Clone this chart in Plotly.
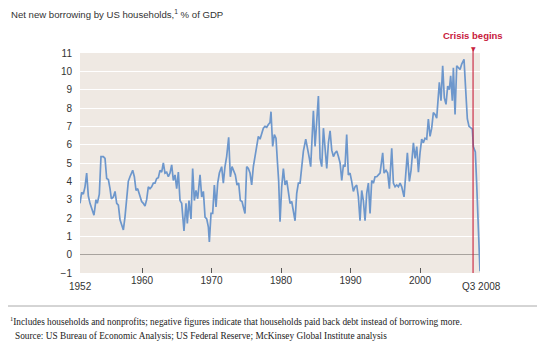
import plotly.graph_objects as go

# ---- data ----
years = [
    1951.08, 1951.32, 1951.56, 1951.80, 1952.04, 1952.28, 1952.52, 1952.76, 1953.09, 1953.38,
    1953.57, 1953.86, 1954.10, 1954.44, 1954.68, 1954.92, 1955.16, 1955.40, 1955.59, 1955.88,
    1956.12, 1956.36, 1956.60, 1956.84, 1957.08, 1957.32, 1957.55, 1957.79, 1958.03, 1958.27,
    1958.66, 1958.90, 1959.14, 1959.38, 1959.71, 1959.95, 1960.19, 1960.43, 1960.67, 1960.91,
    1961.15, 1961.39, 1961.63, 1961.87, 1962.11, 1962.35, 1962.59, 1962.83, 1963.07, 1963.31,
    1963.55, 1963.79,
    1964.03, 1964.27, 1964.51, 1964.75, 1964.99, 1965.23, 1965.47, 1965.71, 1966.04, 1966.33,
    1966.52, 1966.76, 1967.05, 1967.29, 1967.53, 1967.77, 1968.01, 1968.35, 1968.59, 1968.83,
    1969.07, 1969.31, 1969.55, 1969.69, 1969.93, 1970.17, 1970.41, 1970.65, 1970.89, 1971.13,
    1971.46, 1971.70, 1971.94, 1972.18, 1972.47, 1972.71, 1972.95, 1973.19, 1973.43, 1973.67,
    1973.91, 1974.15, 1974.39, 1974.58, 1974.82, 1975.06, 1975.30, 1975.54, 1975.78, 1976.02,
    1976.26, 1976.50, 1976.74, 1976.98, 1977.22, 1977.46, 1977.70, 1977.94, 1978.18, 1978.42,
    1978.56, 1978.80, 1979.04, 1979.28, 1979.47, 1979.66, 1979.86, 1980.10, 1980.34, 1980.58,
    1980.82, 1981.06, 1981.30, 1981.54, 1981.78, 1982.02, 1982.26, 1982.50,
    1982.74, 1982.98, 1983.22, 1983.56, 1983.80, 1984.08, 1984.27, 1984.47, 1984.66, 1984.90,
    1985.14, 1985.38, 1985.62, 1985.86, 1986.10, 1986.34, 1986.58, 1986.82, 1987.06, 1987.30,
    1987.54, 1987.78, 1988.02, 1988.26, 1988.50, 1988.74, 1988.98, 1989.21, 1989.45, 1989.69,
    1989.93, 1990.17, 1990.41, 1990.65, 1990.89, 1991.13, 1991.37, 1991.61, 1991.85, 1992.09,
    1992.33, 1992.57, 1992.81, 1993.05, 1993.29, 1993.53, 1993.77, 1994.01, 1994.25, 1994.63,
    1994.83, 1995.11, 1995.35, 1995.59, 1995.93, 1996.17, 1996.41, 1996.65, 1996.89, 1997.13,
    1997.37, 1997.70, 1997.99, 1998.18, 1998.47, 1998.71, 1999.05, 1999.29, 1999.53, 1999.77,
    2000.00, 2000.24, 2000.48, 2000.72, 2000.96, 2001.20, 2001.44, 2001.68, 2001.92, 2002.16,
    2002.40, 2002.64, 2002.78, 2003.02, 2003.26, 2003.50, 2003.74, 2003.98, 2004.22, 2004.41,
    2004.65, 2004.80, 2005.04, 2005.28, 2005.52, 2005.76, 2006.00, 2006.33, 2006.57, 2006.81,
    2007.05, 2007.29, 2007.53, 2007.67, 2007.82, 2007.96, 2008.15, 2008.35, 2008.49, 2008.63,
]
borrowing = [
    2.8, 3.4, 3.3, 3.7, 4.45, 3.2, 2.8, 2.5, 2.15, 3.0,
    2.8, 3.3, 5.35, 5.35, 5.25, 4.15, 4.1, 3.6, 3.05, 3.15,
    3.45, 2.8, 2.7, 1.9, 1.6, 1.35, 2.05, 3.15, 4.0, 4.25,
    4.6, 4.25, 3.5, 3.6, 3.15, 2.9, 2.8, 2.65, 3.0, 3.7,
    3.6, 3.7, 3.9, 3.9, 4.15, 4.2, 4.6, 4.5, 5.0, 4.45,
    4.5, 4.25,
    4.45, 4.9, 4.05, 4.35, 3.6, 4.5, 2.95, 2.8, 1.3, 2.8,
    1.7, 2.95, 1.95, 4.7, 2.95, 3.5, 3.05, 4.35, 3.15, 3.45,
    2.05, 1.95, 1.5, 0.7, 2.25, 2.25, 3.8, 2.6, 3.9, 4.45,
    4.8, 3.9, 4.8, 5.35, 6.4, 4.25, 4.8, 4.55, 4.35, 3.8,
    3.9, 2.95, 2.9, 2.6, 2.25, 4.8, 4.7, 4.45, 3.8, 4.8,
    5.35, 6.1, 6.45, 6.3, 6.55, 6.9, 7.0, 6.95, 7.1, 7.2,
    7.8, 5.9, 6.55, 6.35, 5.15, 4.05, 1.8, 3.7, 4.7, 3.8,
    4.05, 3.35, 2.8, 2.9, 2.4, 1.85, 3.35, 3.9,
    3.9, 4.8, 5.65, 6.3, 5.7, 5.25, 4.8, 6.3, 7.85, 5.9,
    7.2, 8.65, 5.25, 4.8, 6.9, 5.9, 4.7, 6.1, 6.75, 5.7,
    5.35, 5.55, 5.65, 5.35, 5.0, 4.05, 4.9, 4.8, 6.55, 4.35,
    4.45, 4.0, 3.45, 3.7, 3.8, 3.15, 1.85, 3.5, 2.95, 1.85,
    3.35, 3.9, 2.25, 4.05, 3.9, 4.25, 4.25, 4.35, 4.45, 5.55,
    4.45, 4.6, 4.45, 3.6, 5.8, 3.9, 3.7, 3.8, 3.7, 3.9,
    3.7, 3.15, 4.45, 5.55, 4.0, 4.6, 6.1, 5.25, 5.9, 4.5,
    5.55, 6.3, 6.1, 6.35, 6.3, 7.4, 6.45, 6.9, 7.75, 7.65,
    7.45, 8.55, 9.4, 8.4, 10.3, 8.55, 8.2, 9.2, 9.0, 9.75,
    8.4, 10.2, 7.65, 10.3, 10.2, 10.1, 10.4, 10.65, 9.0, 7.4,
    7.0, 6.9, 6.85, 5.9, 5.7, 5.6, 3.9, 2.05, 0.2, -0.9,
]
y_ticks = list(range(-1, 12))
x_ticks = [1960, 1970, 1980, 1990, 2000]
x_tick_labels = ["1960", "1970", "1980", "1990", "2000"]
start_label = "1952"
end_label = "Q3 2008"
crisis_x = 2007.63
crisis_label = "Crisis begins"
title = "Net new borrowing by US households,<sup>1</sup> % of GDP"
footnote = "<sup>1</sup>Includes households and nonprofits; negative figures indicate that households paid back debt instead of borrowing more."
source = "Source: US Bureau of Economic Analysis; US Federal Reserve; McKinsey Global Institute analysis"

# ---- layout geometry (pixels) ----
W, H = 545, 349
L, R, T, B = 80, 480, 53, 273
pw, ph = R - L, B - T


def px(xp):
    return (xp - L) / pw


def py(yp):
    return (B - yp) / ph


SANS = "Liberation Sans, Arial, sans-serif"
SERIF = "Liberation Serif, Times New Roman, serif"
RED = "#C8203C"
BLUE = "#6D97CC"
TXT = "#333333"

fig = go.Figure()
fig.add_trace(go.Scatter(
    x=years, y=borrowing, mode="lines",
    line=dict(color=BLUE, width=1.7),
    hoverinfo="skip", showlegend=False,
))

fig.update_layout(
    width=W, height=H,
    margin=dict(l=L, r=W - R, t=T, b=H - B, pad=0),
    paper_bgcolor="white",
    plot_bgcolor="#EFE9E3",
    font=dict(family=SANS, size=10, color=TXT),
    xaxis=dict(
        range=[years[0], years[-1]],
        tickmode="array", tickvals=x_ticks, ticktext=x_tick_labels,
        ticks="inside", ticklen=5, tickwidth=1, tickcolor="#555555",
        showgrid=False, zeroline=False, showline=False,
        tickfont=dict(family=SANS, size=10, color=TXT),
        fixedrange=True,
    ),
    yaxis=dict(
        range=[-1, 11],
        tickmode="array", tickvals=y_ticks,
        showgrid=True, gridcolor="#FFFFFF", gridwidth=1,
        zeroline=True, zerolinecolor="#A8A39E", zerolinewidth=1,
        showline=False, ticks="",
        ticklabelstandoff=7,
        tickfont=dict(family=SANS, size=10, color=TXT),
        fixedrange=True,
    ),
)

shapes = [
    dict(type="line", xref="x", yref="paper", x0=crisis_x, x1=crisis_x,
         y0=0, y1=py(50), line=dict(color=RED, width=1.1), layer="above"),
    dict(type="line", xref="paper", yref="paper", x0=px(8), x1=px(537),
         y0=py(306), y1=py(306), line=dict(color="#AAAAAA", width=1)),
]
fig.update_layout(shapes=shapes)

ann = [
    dict(text=title, x=px(9), y=py(14), xanchor="left", yanchor="middle",
         font=dict(family=SANS, size=9.6, color=TXT)),
    dict(text=start_label, x=0, y=py(286), xanchor="center", yanchor="middle",
         font=dict(family=SANS, size=10, color=TXT)),
    dict(text=end_label, x=px(482), y=py(286), xanchor="center", yanchor="middle",
         font=dict(family=SANS, size=10, color=TXT)),
    dict(text="<b>" + crisis_label + "</b>", xref="x", x=crisis_x, y=py(36),
         xanchor="center", yanchor="middle",
         font=dict(family=SANS, size=9.5, color=RED)),
    dict(text="▼", xref="x", x=crisis_x, y=py(48), xanchor="center", yanchor="middle",
         font=dict(family="DejaVu Sans", size=6, color=RED)),
    dict(text=footnote, x=px(8), y=py(321), xanchor="left", yanchor="middle",
         font=dict(family=SERIF, size=9.3, color="#222222")),
    dict(text=source, x=px(13), y=py(336), xanchor="left", yanchor="middle",
         font=dict(family=SERIF, size=9.3, color="#222222")),
]
for a in ann:
    a.setdefault("xref", "paper")
    a["yref"] = "paper"
    a["showarrow"] = False
fig.update_layout(annotations=ann)

fig.write_html("out.html", config={"displayModeBar": False})
